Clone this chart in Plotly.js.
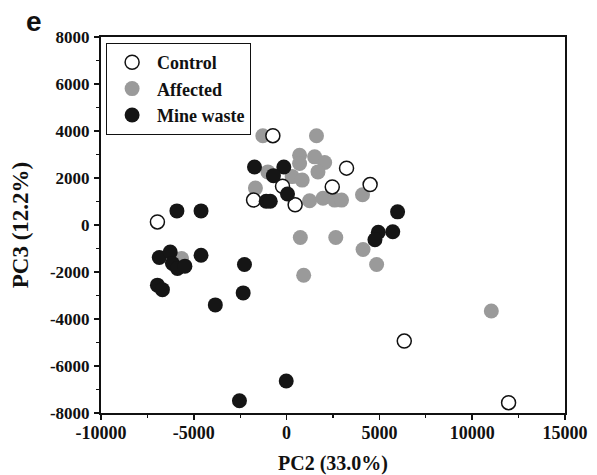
<!DOCTYPE html>
<html>
<head>
<meta charset="utf-8">
<script src="https://cdn.plot.ly/plotly-3.0.1.min.js"></script>
<style>html,body{margin:0;padding:0;background:#fff;}#chart{width:597px;height:475px;}</style>
</head>
<body>
<div id="chart"></div>
<script>
// PC2 (x) and PC3 (y) scores
const controlX = [-740, 3230, 2460, 4500, -1780, 460, -220, -6960, 6340, 11960];
const controlY = [3800, 2420, 1620, 1720, 1060, 860, 1650, 130, -4940, -7560];

const affectedX = [-1280, 1610, 700, 700, 1510, 2050, 1690, -1010, 300, 840, -1680, 4090, 1240, 1960, 2590, 2960, 740, 2650, 4120, 4850, 920, 11030, -5660];
const affectedY = [3800, 3800, 2970, 2620, 2900, 2660, 2260, 2260, 2060, 1910, 1570, 1290, 1030, 1140, 1060, 1060, -530, -530, -1040, -1680, -2140, -3660, -1430];

const mineX = [-1730, -150, -710, 50, -1100, -880, -5910, -4610, 5980, 4940, 5720, 4760, -6860, -6270, -6150, -5880, -5480, -4610, -2270, -6960, -6690, -2340, -3840, -20, -2540];
const mineY = [2470, 2470, 2100, 1320, 1010, 1010, 600, 600, 560, -310, -290, -630, -1380, -1150, -1640, -1850, -1750, -1290, -1680, -2560, -2750, -2890, -3400, -6640, -7480];

const xTicks = [-10000, -5000, 0, 5000, 10000, 15000];
const yTicks = [-8000, -6000, -4000, -2000, 0, 2000, 4000, 6000, 8000];

const serif = "Liberation Serif, Times New Roman, serif";
const b = s => "<b>" + s + "</b>";

const traces = [
  {
    name: b("Affected"), x: affectedX, y: affectedY, type: "scatter", mode: "markers",
    legendrank: 2,
    marker: {size: 15, color: "#9a9a9a", line: {width: 0}}
  },
  {
    name: b("Control"), x: controlX, y: controlY, type: "scatter", mode: "markers",
    legendrank: 1,
    marker: {size: 14, color: "#ffffff", line: {width: 1.5, color: "#111111"}}
  },
  {
    name: b("Mine waste"), x: mineX, y: mineY, type: "scatter", mode: "markers",
    legendrank: 3,
    marker: {size: 15, color: "#151515", line: {width: 0}}
  }
];

const layout = {
  width: 597, height: 475,
  margin: {l: 101, r: 32, t: 37, b: 62},
  paper_bgcolor: "#ffffff", plot_bgcolor: "#ffffff",
  showlegend: true,
  font: {family: serif, color: "#111111"},
  xaxis: {
    range: [-10000, 15000], tickvals: xTicks, ticktext: xTicks.map(v => b(v)),
    ticks: "outside", ticklen: 5, tickwidth: 1.5, tickcolor: "#111",
    ticklabelstandoff: -3,
    minor: {dtick: 2500, ticks: "outside", ticklen: 3, tickwidth: 1.2, tickcolor: "#111"},
    showline: true, linewidth: 2, linecolor: "#111", mirror: true,
    showgrid: false, zeroline: false,
    tickfont: {family: serif, size: 18, color: "#111", weight: "bold"},
    title: {text: b("PC2 (33.0%)"), font: {family: serif, size: 20, color: "#111"}, standoff: 14}
  },
  yaxis: {
    range: [-8000, 8000], tickvals: yTicks, ticktext: yTicks.map(v => b(v)),
    ticks: "outside", ticklen: 5, tickwidth: 1.5, tickcolor: "#111",
    ticklabelstandoff: 1,
    minor: {dtick: 1000, ticks: "outside", ticklen: 3, tickwidth: 1.2, tickcolor: "#111"},
    showline: true, linewidth: 2, linecolor: "#111", mirror: true,
    showgrid: false, zeroline: false,
    tickfont: {family: serif, size: 17, color: "#111", weight: "bold"},
    title: {text: b("PC3 (12.2%)"), font: {family: serif, size: 23, color: "#111"}, standoff: 15}
  },
  legend: {
    x: 0.011, y: 0.984, xanchor: "left", yanchor: "top",
    bgcolor: "#ffffff", bordercolor: "#111", borderwidth: 1,
    font: {family: serif, size: 18, color: "#111", weight: "bold"},
    tracegroupgap: 0, itemwidth: 40
  },
  annotations: [{
    text: "<b>e</b>", xref: "paper", yref: "paper", x: -0.165, y: 1.04,
    xanchor: "left", yanchor: "middle", showarrow: false,
    font: {family: "Liberation Sans, Arial, sans-serif", size: 28, color: "#111"}
  }]
};

Plotly.newPlot("chart", traces, layout, {displayModeBar: false, staticPlot: true});
</script>
</body>
</html>
